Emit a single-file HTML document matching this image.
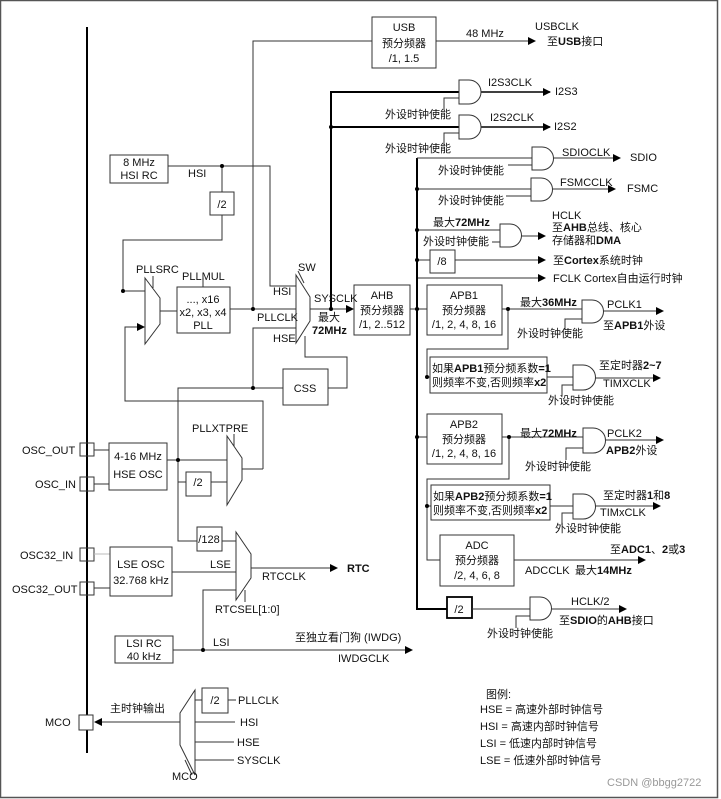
<!DOCTYPE html>
<html><head><meta charset="utf-8"><style>
html,body{margin:0;padding:0;background:#fff}
svg{display:block}
text{font-family:"Liberation Sans","Noto Sans CJK SC",sans-serif;font-size:11px;fill:#111}
.b{font-weight:bold}
</style></head><body>
<svg width="721" height="799" viewBox="0 0 721 799" xmlns="http://www.w3.org/2000/svg">
<defs>
<marker id="a" markerWidth="8" markerHeight="8" refX="7" refY="4" orient="auto" markerUnits="userSpaceOnUse"><path d="M0,0 L8,4 L0,8 z" fill="#000"/></marker>
</defs>
<rect x="0.5" y="0.5" width="717" height="797" fill="none" stroke="#555" stroke-width="1.5"/>
<g stroke="#333" stroke-width="1" fill="none">
<line x1="87" y1="27" x2="87" y2="753" stroke="#000" stroke-width="2"/>
<rect x="372" y="17" width="64" height="51" fill="#fff"/>
<polyline points="253,309 253,41 372,41"/>
<line x1="436" y1="41" x2="535" y2="41" marker-end="url(#a)"/>
<rect x="110" y="155" width="58" height="28"/>
<polyline points="168,166 270,166 270,286 296,286"/>
<line x1="222" y1="166" x2="222" y2="192"/>
<rect x="210" y="192" width="24" height="23"/>
<polyline points="222,215 222,240 123,240 123,291 146,291"/>
<polygon points="145,278 160,298 160,324 145,344" fill="#fff"/>
<line x1="153" y1="276" x2="153" y2="288"/>
<line x1="160" y1="311" x2="177" y2="311"/>
<rect x="177" y="287" width="53" height="46"/>
<line x1="203" y1="278" x2="203" y2="287"/>
<line x1="230" y1="309" x2="296" y2="309"/>
<polyline points="263,469 263,401 125,401 125,327 144,327" marker-end="url(#a)"/>
<polygon points="296,275 310,297 310,321 296,343" fill="#fff"/>
<line x1="298" y1="271" x2="304" y2="283"/>
<polyline points="253,388 253,328 296,328"/>
<polyline points="305,336 305,357 347,357 347,388 328,388"/>
<rect x="283" y="369" width="45" height="36"/>
<polyline points="283,388 178,388 178,541 197,541"/>
<line x1="310" y1="309" x2="353" y2="309" marker-end="url(#a)"/>
<rect x="354" y="285" width="56" height="50"/>
<polyline points="331,309 331,92 459,92" stroke="#000" stroke-width="2"/>
<line x1="331" y1="127" x2="459" y2="127" stroke="#000" stroke-width="2"/>
<line x1="410" y1="309" x2="427" y2="309"/>
<polyline points="417,158 417,609 447,609" stroke="#000" stroke-width="2"/>
<line x1="417" y1="158" x2="532" y2="158"/>
<line x1="417" y1="189" x2="531" y2="189"/>
<line x1="417" y1="230" x2="500" y2="230"/>
<line x1="417" y1="260" x2="430" y2="260"/>
<rect x="430" y="250" width="25" height="23"/>
<line x1="455" y1="260" x2="545" y2="260" marker-end="url(#a)"/>
<line x1="418" y1="278" x2="545" y2="278" marker-end="url(#a)"/>
<line x1="481" y1="92" x2="550" y2="92" marker-end="url(#a)" stroke="#000" stroke-width="1.5"/>
<line x1="481" y1="127" x2="550" y2="127" marker-end="url(#a)" stroke="#000" stroke-width="1.5"/>
<line x1="553" y1="158" x2="620" y2="158" marker-end="url(#a)"/>
<line x1="551" y1="189" x2="615" y2="189" marker-end="url(#a)"/>
<line x1="521" y1="236" x2="545" y2="236" marker-end="url(#a)"/>
<polyline points="444,110 444,98 459,98"/>
<polyline points="444,145 444,133 459,133"/>
<line x1="508" y1="165" x2="532" y2="165"/>
<line x1="506" y1="196" x2="531" y2="196"/>
<line x1="500" y1="242" x2="492" y2="242"/>
<rect x="427" y="285" width="75" height="50"/>
<line x1="502" y1="309" x2="582" y2="309"/>
<line x1="603" y1="311" x2="663" y2="311" marker-end="url(#a)"/>
<polyline points="565,330 565,319 582,319"/>
<polyline points="508,309 508,349 427,349 427,377 430,377"/>
<rect x="430" y="357" width="117" height="36"/>
<line x1="547" y1="377" x2="573" y2="377"/>
<line x1="594" y1="378" x2="660" y2="378" marker-end="url(#a)"/>
<polyline points="562,396 562,385 573,385"/>
<rect x="427" y="414" width="75" height="50"/>
<line x1="417" y1="437" x2="427" y2="437"/>
<line x1="502" y1="437" x2="583" y2="437"/>
<line x1="604" y1="440" x2="663" y2="440" marker-end="url(#a)"/>
<polyline points="566,460 566,448 583,448"/>
<polyline points="509,437 509,479 427,479 427,560 440,560"/>
<rect x="431" y="485" width="119" height="35"/>
<line x1="427" y1="506" x2="431" y2="506"/>
<line x1="550" y1="506" x2="573" y2="506"/>
<line x1="594" y1="506" x2="660" y2="506" marker-end="url(#a)"/>
<polyline points="562,525 562,513 573,513"/>
<rect x="440" y="535" width="74" height="51"/>
<line x1="514" y1="560" x2="645" y2="560" marker-end="url(#a)"/>
<rect x="447" y="597" width="25" height="21" stroke="#000" stroke-width="1.8"/>
<line x1="472" y1="609" x2="530" y2="609"/>
<line x1="552" y1="609" x2="626" y2="609" marker-end="url(#a)"/>
<polyline points="516,628 516,616 530,616"/>
<rect x="80" y="443" width="14" height="13"/>
<rect x="80" y="477" width="14" height="14"/>
<line x1="94" y1="450" x2="109" y2="450"/>
<line x1="94" y1="484" x2="109" y2="484"/>
<rect x="109" y="443" width="58" height="47"/>
<line x1="167" y1="460" x2="227" y2="460"/>
<polyline points="178,460 178,482 186,482"/>
<rect x="186" y="472" width="25" height="24"/>
<line x1="211" y1="482" x2="227" y2="482"/>
<polygon points="227,436 242,458 242,480 227,505" fill="#fff"/>
<line x1="234" y1="434" x2="234" y2="446"/>
<line x1="242" y1="469" x2="263" y2="469"/>
<rect x="80" y="548" width="14" height="13"/>
<rect x="80" y="582" width="14" height="13"/>
<line x1="94" y1="554" x2="110" y2="554" stroke="#bbb"/>
<line x1="94" y1="588" x2="110" y2="588"/>
<rect x="110" y="547" width="62" height="49"/>
<rect x="197" y="527" width="25" height="24"/>
<line x1="222" y1="541" x2="236" y2="541"/>
<line x1="172" y1="572" x2="236" y2="572"/>
<polygon points="236,532 251,554 251,578 236,600" fill="#fff"/>
<line x1="245" y1="590" x2="245" y2="602"/>
<line x1="251" y1="568" x2="337" y2="568" marker-end="url(#a)"/>
<polyline points="203,650 203,590 236,590"/>
<rect x="115" y="636" width="58" height="27"/>
<line x1="173" y1="650" x2="412" y2="650" marker-end="url(#a)"/>
<rect x="79" y="715" width="14" height="15" fill="#fff"/>
<line x1="180" y1="722" x2="95" y2="722" marker-end="url(#a)"/>
<polygon points="195,690 180,713 180,745 195,775"/>
<line x1="185" y1="760" x2="192" y2="775"/>
<rect x="202" y="688" width="26" height="25"/>
<line x1="195" y1="700" x2="202" y2="700"/>
<line x1="228" y1="700" x2="236" y2="700"/>
<line x1="195" y1="722" x2="235" y2="722"/>
<line x1="195" y1="742" x2="234" y2="742"/>
<line x1="195" y1="760" x2="234" y2="760"/>
</g>
<g stroke="#333" stroke-width="1" fill="#fff">
<path d="M459,80 h10 a12,12 0 0 1 0,24 h-10 z"/>
<path d="M459,115 h10 a12,12 0 0 1 0,24 h-10 z"/>
<path d="M532,147 h10 a11.5,11.5 0 0 1 0,23 h-10 z"/>
<path d="M531,178 h10 a11.5,11.5 0 0 1 0,23 h-10 z"/>
<path d="M500,224 h10 a11.5,11.5 0 0 1 0,23 h-10 z"/>
<path d="M582,300 h10 a11.5,11.5 0 0 1 0,23 h-10 z"/>
<path d="M573,365 h10 a12.5,12.5 0 0 1 0,25 h-10 z"/>
<path d="M583,428 h10 a12.5,12.5 0 0 1 0,25 h-10 z"/>
<path d="M573,494 h10 a12.5,12.5 0 0 1 0,25 h-10 z"/>
<path d="M530,597 h10 a11.5,11.5 0 0 1 0,23 h-10 z"/>
</g>
<g fill="#000">
<circle cx="222" cy="166" r="2"/><circle cx="123" cy="291" r="2"/><circle cx="253" cy="309" r="2"/>
<circle cx="253" cy="388" r="2"/><circle cx="331" cy="309" r="2"/><circle cx="331" cy="127" r="2"/>
<circle cx="417" cy="189" r="2"/><circle cx="417" cy="230" r="2"/><circle cx="417" cy="260" r="2"/>
<circle cx="417" cy="309" r="2"/><circle cx="417" cy="437" r="2"/><circle cx="508" cy="309" r="2"/>
<circle cx="509" cy="437" r="2"/><circle cx="427" cy="377" r="2"/><circle cx="427" cy="506" r="2"/>
<circle cx="178" cy="460" r="2"/><circle cx="203" cy="650" r="2"/>
</g>
<g text-anchor="middle">
<text x="404" y="31">USB</text><text x="404" y="47">预分频器</text><text x="404" y="62">/1, 1.5</text>
<text x="139" y="166">8 MHz</text><text x="139" y="179">HSI RC</text>
<text x="222" y="208">/2</text>
<text x="203" y="303">..., x16</text><text x="203" y="316">x2, x3, x4</text><text x="203" y="329">PLL</text>
<text x="305" y="392">CSS</text>
<text x="382" y="299">AHB</text><text x="382" y="314">预分频器</text><text x="382" y="328">/1, 2..512</text>
<text x="442" y="265">/8</text>
<text x="464" y="299">APB1</text><text x="464" y="314">预分频器</text><text x="464" y="328">/1, 2, 4, 8, 16</text>
<text x="464" y="428">APB2</text><text x="464" y="443">预分频器</text><text x="464" y="457">/1, 2, 4, 8, 16</text>
<text x="477" y="549">ADC</text><text x="477" y="564">预分频器</text><text x="477" y="579">/2, 4, 6, 8</text>
<text x="459" y="613">/2</text>
<text x="138" y="460">4-16 MHz</text><text x="138" y="478">HSE OSC</text>
<text x="198" y="486">/2</text>
<text x="141" y="568">LSE OSC</text><text x="141" y="584">32.768 kHz</text>
<text x="209" y="543">/128</text>
<text x="144" y="647">LSI RC</text><text x="144" y="660">40 kHz</text>
<text x="215" y="704">/2</text>
</g>
<text x="188" y="177" font-size="10">HSI</text>
<text x="136" y="273">PLLSRC</text>
<text x="182" y="280">PLLMUL</text>
<text x="298" y="271">SW</text>
<text x="273" y="295" font-size="10">HSI</text>
<text x="257" y="321" font-size="10">PLLCLK</text>
<text x="273" y="342" font-size="10">HSE</text>
<text x="314" y="302" font-size="10">SYSCLK</text>
<text x="318" y="321">最大</text><text x="312" y="334" class="b">72MHz</text>
<text x="466" y="37" font-size="10">48 MHz</text>
<text x="535" y="30">USBCLK</text><text x="547" y="45" font-size="10">至<tspan class="b">USB</tspan>接口</text>
<text x="488" y="86" font-size="10">I2S3CLK</text><text x="555" y="95" font-size="10">I2S3</text>
<text x="490" y="121" font-size="10">I2S2CLK</text><text x="554" y="130" font-size="10">I2S2</text>
<text x="385" y="118" font-size="10">外设时钟使能</text>
<text x="385" y="152" font-size="10">外设时钟使能</text>
<text x="562" y="156" font-size="10">SDIOCLK</text><text x="630" y="161" font-size="10">SDIO</text>
<text x="438" y="174" font-size="10">外设时钟使能</text>
<text x="560" y="186" font-size="10">FSMCCLK</text><text x="627" y="192" font-size="10">FSMC</text>
<text x="438" y="204" font-size="10">外设时钟使能</text>
<text x="433" y="226" font-size="10">最大<tspan class="b">72MHz</tspan></text>
<text x="423" y="245" font-size="10">外设时钟使能</text>
<text x="552" y="219">HCLK</text>
<text x="552" y="231" font-size="10">至<tspan class="b">AHB</tspan>总线、核心</text>
<text x="552" y="244" font-size="10">存储器和<tspan class="b">DMA</tspan></text>
<text x="553" y="264" font-size="10">至<tspan class="b">Cortex</tspan>系统时钟</text>
<text x="553" y="282">FCLK Cortex自由运行时钟</text>
<text x="520" y="306" font-size="10">最大<tspan class="b">36MHz</tspan></text>
<text x="607" y="308">PCLK1</text>
<text x="603" y="329" font-size="10">至<tspan class="b">APB1</tspan>外设</text>
<text x="517" y="337" font-size="10">外设时钟使能</text>
<text x="432" y="372" font-size="10">如果<tspan class="b">APB1</tspan>预分频系数<tspan class="b">=1</tspan></text>
<text x="432" y="386" font-size="10">则频率不变,否则频率<tspan class="b">x2</tspan></text>
<text x="599" y="369" font-size="10">至定时器<tspan class="b">2~7</tspan></text>
<text x="603" y="387">TIMXCLK</text>
<text x="548" y="404" font-size="10">外设时钟使能</text>
<text x="520" y="437" font-size="10">最大<tspan class="b">72MHz</tspan></text>
<text x="607" y="437">PCLK2</text>
<text x="606" y="454" font-size="10"><tspan class="b">APB2</tspan>外设</text>
<text x="525" y="470" font-size="10">外设时钟使能</text>
<text x="433" y="500" font-size="10">如果<tspan class="b">APB2</tspan>预分频系数<tspan class="b">=1</tspan></text>
<text x="433" y="514" font-size="10">则频率不变,否则频率<tspan class="b">x2</tspan></text>
<text x="603" y="499" font-size="10">至定时器<tspan class="b">1</tspan>和<tspan class="b">8</tspan></text>
<text x="600" y="516">TIMxCLK</text>
<text x="555" y="532" font-size="10">外设时钟使能</text>
<text x="610" y="553" font-size="10">至<tspan class="b">ADC1</tspan>、<tspan class="b">2</tspan>或<tspan class="b">3</tspan></text>
<text x="525" y="574">ADCCLK</text><text x="575" y="574" font-size="10">最大<tspan class="b">14MHz</tspan></text>
<text x="571" y="605" font-size="10">HCLK/2</text>
<text x="559" y="624" font-size="10">至<tspan class="b">SDIO</tspan>的<tspan class="b">AHB</tspan>接口</text>
<text x="487" y="637" font-size="10">外设时钟使能</text>
<text x="22" y="454">OSC_OUT</text>
<text x="35" y="488">OSC_IN</text>
<text x="20" y="559" font-size="10">OSC32_IN</text>
<text x="12" y="593">OSC32_OUT</text>
<text x="192" y="432">PLLXTPRE</text>
<text x="210" y="568" font-size="10">LSE</text>
<text x="262" y="580">RTCCLK</text>
<text x="347" y="572" class="b" font-size="12">RTC</text>
<text x="215" y="613">RTCSEL[1:0]</text>
<text x="213" y="646" font-size="10">LSI</text>
<text x="295" y="641" font-size="10">至独立看门狗 (IWDG)</text>
<text x="338" y="662">IWDGCLK</text>
<text x="45" y="726">MCO</text>
<text x="110" y="712">主时钟输出</text>
<text x="238" y="704">PLLCLK</text>
<text x="240" y="726">HSI</text>
<text x="237" y="746">HSE</text>
<text x="237" y="764">SYSCLK</text>
<text x="172" y="780">MCO</text>
<text x="486" y="698" font-size="10">图例:</text>
<text x="480" y="713" font-size="10">HSE = 高速外部时钟信号</text>
<text x="480" y="730" font-size="10">HSI = 高速内部时钟信号</text>
<text x="480" y="747" font-size="10">LSI = 低速内部时钟信号</text>
<text x="480" y="764" font-size="10">LSE = 低速外部时钟信号</text>
<text x="607" y="786" font-size="11" style="fill:#999">CSDN @bbgg2722</text>
</svg>
</body></html>
